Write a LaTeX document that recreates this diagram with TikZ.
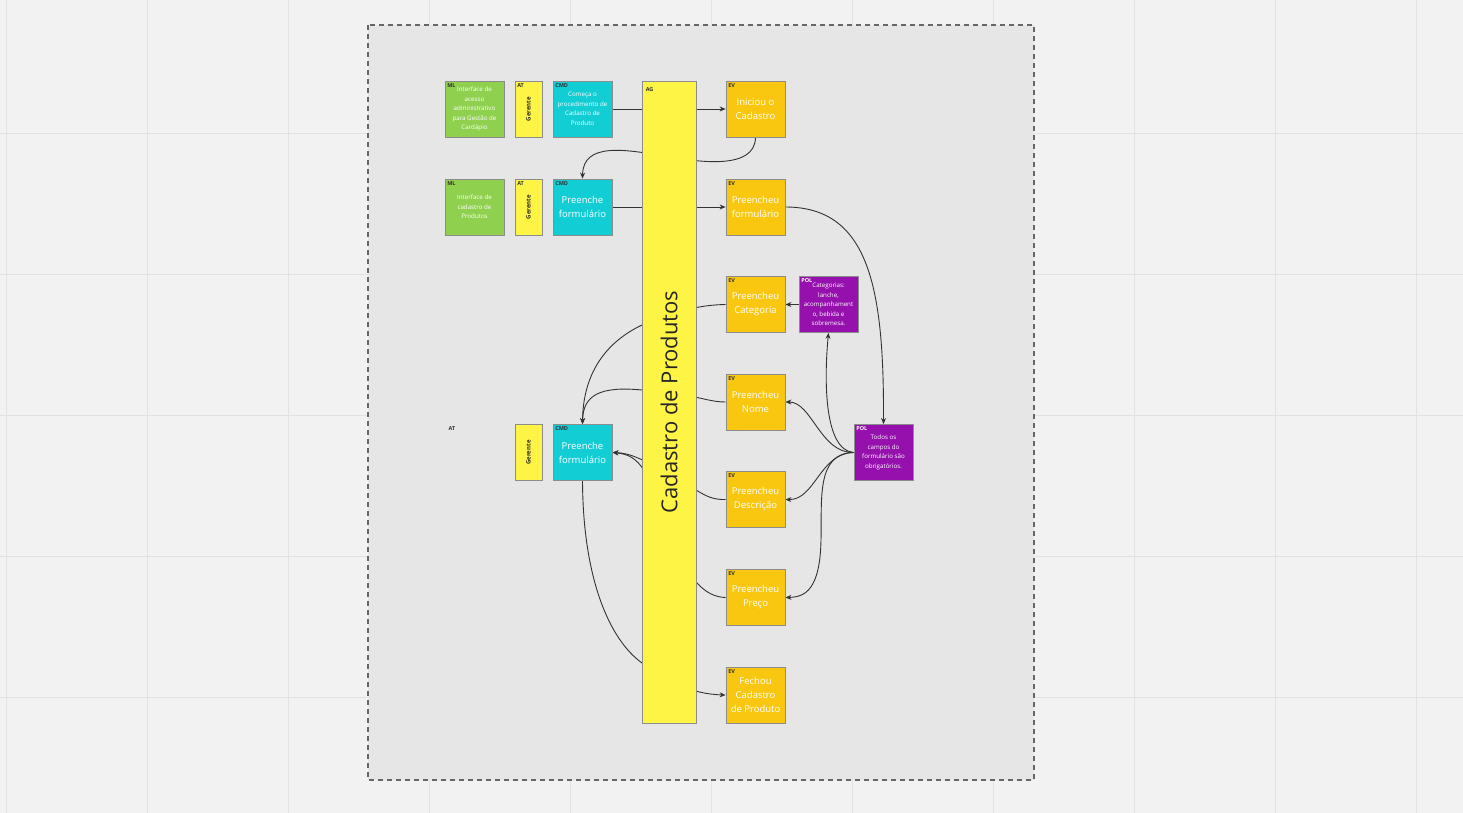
\documentclass[tikz,border=0pt]{standalone}
\usepackage{fontspec}
\setmainfont{Open Sans}
\usetikzlibrary{arrows.meta}
\pgfdeclarelayer{back}
\pgfdeclarelayer{links}
\pgfsetlayers{back,links,main}
\definecolor{canvas}{HTML}{F2F2F2}
\definecolor{gridln}{HTML}{E2E2E2}
\definecolor{framebg}{HTML}{E6E6E6}
\definecolor{mlgreen}{HTML}{8FD14F}
\definecolor{atyellow}{HTML}{FEF445}
\definecolor{cmdcyan}{HTML}{12CDD4}
\definecolor{evorange}{HTML}{FAC710}
\definecolor{polviolet}{HTML}{9510AC}
\tikzset{
  sticky/.style={draw=black!45,line width=0.8pt,minimum width=59pt,minimum height=56pt,inner sep=0pt,align=center,text=white},
  tag/.style={font=\fontsize{5.5}{6}\selectfont\bfseries,text=black!80,inner sep=2.5pt},
  tagged/.style={label={[tag,anchor=north west]north west:#1}},
  small/.style={font=\fontsize{6.2}{9.5}\selectfont},
  big/.style={font=\fontsize{9.5}{14}\selectfont},
  mlbox/.style={sticky,small,fill=mlgreen,tagged=ML},
  atplain/.style={sticky,fill=atyellow,minimum width=27pt,text=black!85,font=\fontsize{6}{7}\selectfont\bfseries},
  atbox/.style={atplain,tagged=AT},
  cmdbox/.style={sticky,fill=cmdcyan,tagged=CMD},
  evbox/.style={sticky,big,fill=evorange,tagged=EV},
  polbox/.style={sticky,small,fill=polviolet,label={[tag,text=white,anchor=north west]north west:POL}},
  flow/.style={draw=black!80,line width=0.9pt,-{Stealth[length=6pt,width=5pt]}}
}
\begin{document}
\begin{tikzpicture}[x=1pt,y=-1pt]
\useasboundingbox (0,0) rectangle (1463,813);
\begin{pgfonlayer}{back}
  \fill[canvas] (0,0) rectangle (1463,813);
  \foreach \gx in {6,147,288,429,570,711,852,993,1134,1275,1416}
    \draw[gridln,line width=0.8pt] (\gx,0) -- (\gx,813);
  \foreach \gy in {133,274,415,556,697}
    \draw[gridln,line width=0.8pt] (0,\gy) -- (1463,\gy);
  \draw[fill=framebg,draw=black!60,line width=1.2pt,dash pattern=on 5pt off 4pt] (368,25) rectangle (1034,780);
\end{pgfonlayer}

\node[mlbox] (ml1) at (474.5,109) {Interface de\\acesso\\administrativo\\para Gestão de\\Cardápio};
\node[atbox] (at1) at (528.5,109) {\rotatebox{90}{Gerente}};
\node[cmdbox,small] (cmd1) at (582.5,109) {Começa o\\procedimento de\\Cadastro de\\Produto};
\node[mlbox] (ml2) at (474.5,207) {Interface de\\cadastro de\\Produtos};
\node[atbox] (at2) at (528.5,207) {\rotatebox{90}{Gerente}};
\node[cmdbox,big] (cmd2) at (582.5,207) {Preenche\\formulário};
\node[tag,anchor=west] (atlbl) at (446,429) {AT};
\node[atplain] (at3) at (528.5,452.5) {\rotatebox{90}{Gerente}};
\node[cmdbox,big] (cmd3) at (582.5,452.5) {Preenche\\formulário};

\node[sticky,fill=atyellow,minimum width=54pt,minimum height=642pt,text=black!85,font=\fontsize{22}{26}\selectfont,label={[tag,anchor=north west,inner sep=4pt,yshift=-3pt]north west:AG}] (ag) at (669,402) {\rotatebox{90}{Cadastro de Produtos}};

\node[evbox] (ev1) at (755.5,109) {Iniciou o\\Cadastro};
\node[evbox] (ev2) at (755.5,207) {Preencheu\\formulário};
\node[evbox] (ev3) at (755.5,304.5) {Preencheu\\Categoria};
\node[evbox] (ev4) at (755.5,402) {Preencheu\\Nome};
\node[evbox] (ev5) at (755.5,499.5) {Preencheu\\Descrição};
\node[evbox] (ev6) at (755.5,597.5) {Preencheu\\Preço};
\node[evbox] (ev7) at (755.5,695) {Fechou\\Cadastro\\de Produto};

\node[polbox] (pol1) at (828.5,304.5) {Categorias:\\lanche,\\acompanhament\\o, bebida e\\sobremesa.};
\node[polbox] (pol2) at (883.5,452.5) {Todos os\\campos do\\formulário são\\obrigatórios.};

\begin{pgfonlayer}{links}
  \draw[flow] (cmd1.east) -- (ev1.west);
  \draw[flow] (ev1.south) .. controls (755,170) and (700,162) .. (669,157) .. controls (625,149) and (583,142) .. (cmd2.north);
  \draw[flow] (cmd2.east) -- (ev2.west);
  \draw[flow] (ev2.east) .. controls (870,207) and (884,290) .. (pol2.north);
  \draw[flow] (ev3.west) .. controls (700,305) and (680,310) .. (642,325) .. controls (600,345) and (583,380) .. (cmd3.north);
  \draw[flow] (ev4.west) .. controls (705,402) and (690,392) .. (642,390) .. controls (600,386) and (583,395) .. (cmd3.north);
  \draw[flow] (ev5.west) .. controls (705,500) and (700,490) .. (669,475) .. controls (645,460) and (630,453) .. (cmd3.east);
  \draw[flow] (ev6.west) .. controls (705,597) and (690,580) .. (669,540) .. controls (650,470) and (640,455) .. (cmd3.east);
  \draw[flow] (cmd3.south) .. controls (583,580) and (610,640) .. (642,663) .. controls (665,680) and (690,694) .. (ev7.west);
  \draw[flow] (pol1.west) -- (ev3.east);
  \draw[flow] (pol2.west) .. controls (824,450) and (824,380) .. (pol1.south);
  \draw[flow] (pol2.west) .. controls (820,453) and (812,402) .. (ev4.east);
  \draw[flow] (pol2.west) .. controls (820,453) and (815,500) .. (ev5.east);
  \draw[flow] (pol2.west) .. controls (816,453) and (822,500) .. (821,540) .. controls (820,590) and (805,597) .. (ev6.east);
\end{pgfonlayer}
\end{tikzpicture}
\end{document}
